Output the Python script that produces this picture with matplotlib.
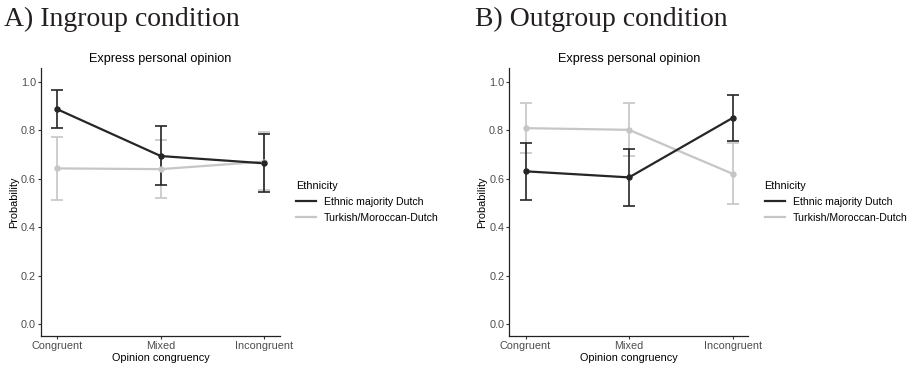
import numpy as np
import matplotlib
matplotlib.use('Agg')
import matplotlib.pyplot as plt
from matplotlib.lines import Line2D

plt.rcParams['font.family'] = ['Liberation Sans', 'DejaVu Sans']

# opinion congruency categories
categories = ['Congruent', 'Mixed', 'Incongruent']
groups = ['Ethnic majority Dutch', 'Turkish/Moroccan-Dutch']

# A) ingroup condition: predicted probability with lower / upper CI
in_majority = [0.887, 0.694, 0.664]
in_majority_lo = [0.808, 0.574, 0.546]
in_majority_hi = [0.966, 0.816, 0.783]
in_minority = [0.643, 0.640, 0.671]
in_minority_lo = [0.513, 0.520, 0.552]
in_minority_hi = [0.774, 0.760, 0.794]

# B) outgroup condition
out_majority = [0.631, 0.606, 0.851]
out_majority_lo = [0.514, 0.490, 0.754]
out_majority_hi = [0.748, 0.724, 0.945]
out_minority = [0.809, 0.802, 0.621]
out_minority_lo = [0.706, 0.695, 0.497]
out_minority_hi = [0.912, 0.912, 0.748]

DARK = '#262626'
LIGHT = '#c6c6c6'
TICK_GRAY = '#4d4d4d'

W, H = 915, 368
fig = plt.figure(figsize=(W / 100, H / 100), dpi=100)


def panel(left_px, data):
    ax = fig.add_axes([left_px / W, (H - 336) / H, 239 / W, 268 / H])
    x = np.arange(len(categories))
    # light series first so the dark one sits on top
    for (m, lo, hi), col in zip(reversed(data), [LIGHT, DARK]):
        m, lo, hi = np.array(m), np.array(lo), np.array(hi)
        ax.errorbar(x, m, yerr=[m - lo, hi - m], fmt='none', ecolor=col,
                    elinewidth=1.2, capsize=4.2, capthick=1.2, zorder=2)
        ax.plot(x, m, color=col, lw=1.6, zorder=3)
        ax.plot(x, m, 'o', color=col, ms=3.6, zorder=4)
    ax.set_xlim(-0.157, 2.152)
    ax.set_ylim(-0.048, 1.057)
    ax.set_xticks(x)
    ax.set_xticklabels(categories)
    ax.set_yticks([0.0, 0.2, 0.4, 0.6, 0.8, 1.0])
    ax.set_yticklabels(['0.0', '0.2', '0.4', '0.6', '0.8', '1.0'])
    ax.tick_params(axis='both', labelsize=7.8, labelcolor=TICK_GRAY,
                   color='#333333', length=2.5, width=0.8, pad=1.2)
    for s in ['top', 'right']:
        ax.spines[s].set_visible(False)
    for s in ['left', 'bottom']:
        ax.spines[s].set_color('#222222')
        ax.spines[s].set_linewidth(0.9)
    ax.set_xlabel('Opinion congruency', fontsize=7.8, labelpad=1)
    ax.set_ylabel('Probability', fontsize=7.8, labelpad=1.5)
    ax.set_title('Express personal opinion', fontsize=9.1, pad=4)

    handles = [Line2D([], [], color=DARK, lw=1.6), Line2D([], [], color=LIGHT, lw=1.6)]
    ax.legend(handles, groups, title='Ethnicity', loc='center left',
              bbox_to_anchor=(1.037, 0.5), frameon=False, fontsize=7.6,
              title_fontsize=7.8, handlelength=1.9, handletextpad=0.75,
              labelspacing=0.55, alignment='left', borderaxespad=0.3)
    return ax


panel(41, [(in_majority, in_majority_lo, in_majority_hi),
           (in_minority, in_minority_lo, in_minority_hi)])
panel(509.3, [(out_majority, out_majority_lo, out_majority_hi),
              (out_minority, out_minority_lo, out_minority_hi)])

# panel headings
fig.text(4 / W, 1 - 26 / H, 'A) Ingroup condition', family='Liberation Serif',
         fontsize=20, color='#231f20', va='baseline')
fig.text(475 / W, 1 - 26 / H, 'B) Outgroup condition', family='Liberation Serif',
         fontsize=20, color='#231f20', va='baseline')

fig.savefig('out.png', dpi=100)
